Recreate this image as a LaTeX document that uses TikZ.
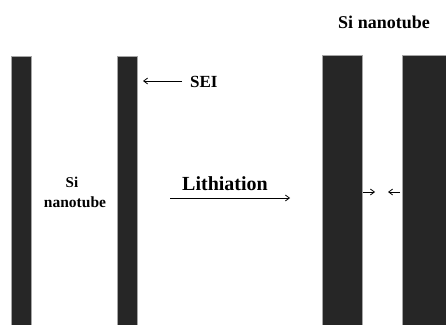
\documentclass[tikz,border=0pt]{standalone}
\usepackage{fontspec}
\setmainfont{Liberation Serif}
\usetikzlibrary{arrows.meta}
\definecolor{barcol}{HTML}{262626}
\tikzset{
  bar/.style={fill=barcol, draw=gray!70, line width=0.6pt},
  lbl/.style={inner sep=0pt, text=black},
  arr/.style={-{Straight Barb[length=4pt,width=6pt]}, line width=0.8pt, black}
}
\begin{document}
\begin{tikzpicture}[x=1pt,y=-1pt]
\useasboundingbox (0,0) rectangle (446,324);
\fill[white] (0,0) rectangle (446,324);
% left tube walls
\path[bar] (11,56) rectangle (31,325);
\path[bar] (117,56) rectangle (137,325);
% right tube walls
\path[bar] (322,55) rectangle (362,325);
\path[bar] (402,55) rectangle (447,325);
% labels
\node[lbl, font=\fontsize{15}{17}\selectfont\bfseries, anchor=base] (si) at (72,187) {Si};
\node[lbl, font=\fontsize{15.5}{17}\selectfont\bfseries, anchor=base] (nt) at (75,207) {nanotube};
\node[lbl, font=\fontsize{17}{19}\selectfont\bfseries, anchor=base west] (sei) at (190,87) {SEI};
\node[lbl, font=\fontsize{20}{22}\selectfont\bfseries, anchor=base] (lith) at (225,190) {Lithiation};
\node[lbl, font=\fontsize{18}{20}\selectfont\bfseries, anchor=base] (top) at (384,28) {Si nanotube};
% arrows
\coordinate (seiS) at (182,81);
\coordinate (seiE) at (143,81);
\draw[arr] (seiS) -- (seiE);
\coordinate (lS) at (170,198);
\coordinate (lE) at (290,198);
\draw[arr] (lS) -- (lE);
\coordinate (a1) at (363,192);
\coordinate (a2) at (375,192);
\draw[arr] (a1) -- (a2);
\coordinate (b1) at (400,192);
\coordinate (b2) at (388,192);
\draw[arr] (b1) -- (b2);
\end{tikzpicture}
\end{document}
